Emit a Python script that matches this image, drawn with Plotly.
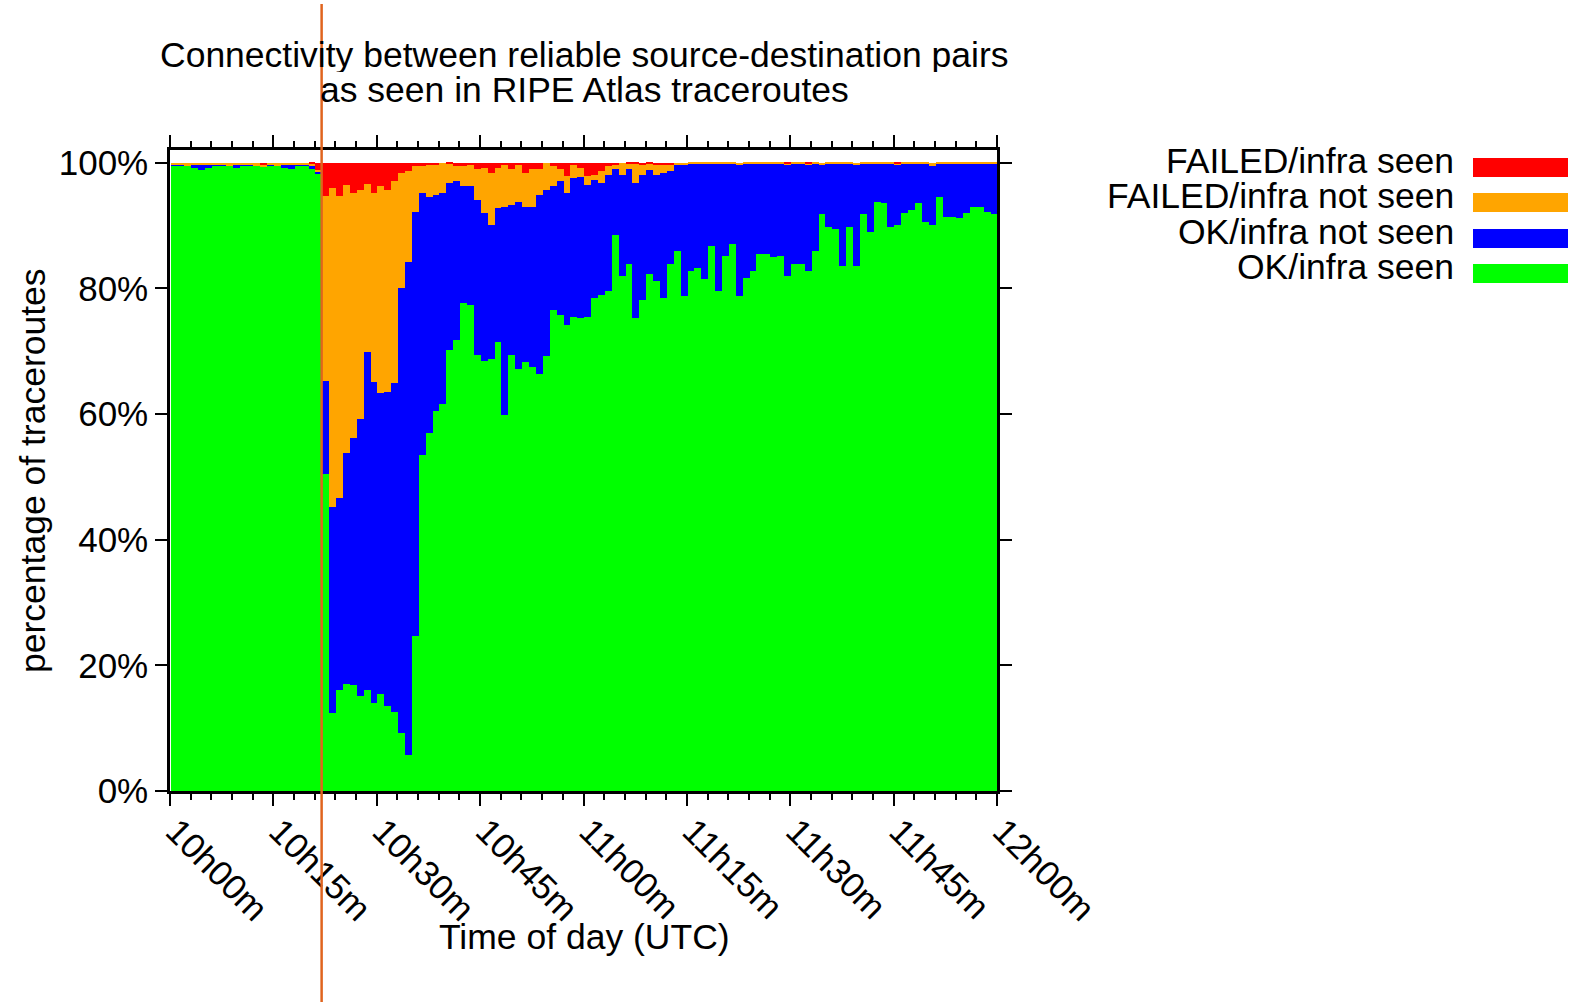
import plotly.graph_objects as go

# ---------------- data ----------------
day = "2015-05-13"
minutes = list(range(120))                       # 1-minute bins 10:00 .. 11:59
bin_start = [f"{day} {10 + m // 60:02d}:{m % 60:02d}:00" for m in minutes]
event_time = f"{day} 10:22:00"

series_names = ["OK/infra seen", "OK/infra not seen", "FAILED/infra not seen", "FAILED/infra seen"]
series_colors = ["#00ff00", "#0000ff", "#ffa500", "#ff0000"]

ok_seen = [
    99.6, 99.6, 99.5, 99.1, 98.8, 99.1, 99.6, 99.6, 99.5, 99.1,
    99.6, 99.6, 99.5, 99.4, 99.6, 99.5, 99.1, 99.0, 99.6, 99.5,
    98.9, 98.2, 50.5, 12.4, 16.1, 17.0, 16.9, 15.1, 16.1, 14.0,
    15.4, 13.5, 12.6, 9.2, 5.7, 24.7, 53.5, 56.9, 60.5, 61.6,
    70.2, 71.7, 77.7, 77.4, 69.4, 68.5, 68.8, 71.4, 59.9, 69.4,
    67.2, 68.2, 67.4, 66.3, 69.3, 76.6, 75.7, 74.2, 75.5, 75.3,
    75.5, 78.5, 79.0, 79.5, 88.4, 82.0, 83.8, 75.2, 78.1, 82.2,
    81.1, 78.5, 83.8, 86.0, 78.7, 82.7, 83.3, 81.4, 86.7, 79.6,
    85.2, 87.0, 78.8, 81.7, 82.8, 85.5, 85.5, 84.9, 85.2, 82.0,
    83.8, 83.8, 82.8, 85.9, 91.8, 89.7, 89.5, 83.5, 89.8, 83.5,
    91.8, 89.0, 93.7, 93.5, 89.8, 90.0, 91.9, 92.4, 93.5, 90.5,
    90.0, 94.6, 91.4, 91.4, 91.2, 91.9, 93.0, 93.0, 92.2, 91.8,
]
ok_not_seen = [
    0.1, 0.1, 0.1, 0.6, 0.9, 0.6, 0.1, 0.1, 0.1, 0.6,
    0.1, 0.1, 0.1, 0.0, 0.1, 0.1, 0.6, 0.7, 0.1, 0.2,
    0.7, 0.3, 14.8, 32.8, 30.6, 36.8, 39.3, 44.1, 53.7, 51.1,
    48.0, 50.0, 52.4, 70.9, 78.4, 67.4, 41.6, 37.6, 34.3, 33.5,
    26.5, 25.3, 18.5, 18.8, 24.6, 23.4, 21.2, 21.3, 33.1, 23.8,
    26.6, 24.7, 25.6, 28.5, 26.3, 19.6, 21.3, 20.9, 22.0, 22.4,
    20.9, 18.7, 17.7, 18.6, 10.5, 16.1, 15.1, 21.5, 20.0, 16.6,
    16.9, 19.8, 14.8, 13.6, 20.9, 17.2, 16.6, 18.4, 13.1, 20.3,
    14.6, 12.9, 20.8, 18.1, 17.1, 14.4, 14.3, 15.0, 14.6, 17.7,
    16.0, 16.1, 16.9, 13.9, 7.8, 10.1, 10.4, 16.3, 10.1, 16.1,
    8.0, 10.9, 6.1, 6.4, 10.0, 9.7, 7.9, 7.5, 6.3, 9.4,
    9.5, 5.3, 8.4, 8.5, 8.7, 7.9, 6.9, 6.9, 7.7, 8.1,
]
failed_not_seen = [
    0.3, 0.3, 0.3, 0.3, 0.3, 0.3, 0.3, 0.3, 0.3, 0.3,
    0.3, 0.3, 0.3, 0.2, 0.3, 0.3, 0.3, 0.3, 0.3, 0.3,
    0.2, 0.3, 29.4, 50.8, 48.0, 42.6, 38.9, 36.4, 26.8, 30.0,
    32.8, 32.1, 32.0, 18.3, 14.5, 7.3, 4.3, 5.2, 4.9, 4.9,
    3.2, 2.4, 3.2, 3.4, 4.9, 7.3, 8.4, 6.5, 6.6, 5.7,
    5.8, 5.5, 5.9, 4.1, 4.4, 3.2, 1.9, 2.7, 2.2, 1.5,
    1.4, 0.9, 1.9, 1.3, 0.8, 1.9, 1.0, 3.2, 1.5, 1.1,
    1.7, 1.4, 1.1, 0.4, 0.4, 0.1, 0.1, 0.2, 0.2, 0.1,
    0.2, 0.1, 0.4, 0.2, 0.1, 0.1, 0.2, 0.1, 0.2, 0.1,
    0.2, 0.1, 0.1, 0.2, 0.4, 0.2, 0.1, 0.2, 0.1, 0.4,
    0.2, 0.1, 0.2, 0.1, 0.2, 0.1, 0.2, 0.1, 0.2, 0.1,
    0.5, 0.1, 0.2, 0.1, 0.1, 0.2, 0.1, 0.1, 0.1, 0.1,
]
failed_seen = [
    0.0, 0.0, 0.0, 0.0, 0.0, 0.0, 0.0, 0.0, 0.0, 0.0,
    0.0, 0.0, 0.0, 0.4, 0.0, 0.0, 0.0, 0.0, 0.0, 0.0,
    0.2, 1.2, 5.3, 4.0, 5.3, 3.6, 4.9, 4.4, 3.4, 4.9,
    3.8, 4.4, 3.0, 1.6, 1.4, 0.6, 0.6, 0.3, 0.3, 0.0,
    0.1, 0.6, 0.6, 0.4, 1.1, 0.8, 1.6, 0.8, 0.4, 1.1,
    0.4, 1.6, 1.1, 1.1, 0.0, 0.6, 1.1, 2.2, 0.3, 0.8,
    2.2, 1.9, 1.4, 0.6, 0.3, 0.0, 0.1, 0.1, 0.4, 0.1,
    0.3, 0.3, 0.3, 0.0, 0.0, 0.0, 0.0, 0.0, 0.0, 0.0,
    0.0, 0.0, 0.0, 0.0, 0.0, 0.0, 0.0, 0.0, 0.0, 0.2,
    0.0, 0.0, 0.2, 0.0, 0.0, 0.0, 0.0, 0.0, 0.0, 0.0,
    0.0, 0.0, 0.0, 0.0, 0.0, 0.2, 0.0, 0.0, 0.0, 0.0,
    0.0, 0.0, 0.0, 0.0, 0.0, 0.0, 0.0, 0.0, 0.0, 0.0,
]
series_values = [ok_seen, ok_not_seen, failed_not_seen, failed_seen]

y_tick_vals = [0, 20, 40, 60, 80, 100]
y_tick_text = [f"{v}%" for v in y_tick_vals]

title_lines = ["Connectivity between reliable source-destination pairs",
               "as seen in RIPE Atlas traceroutes"]
x_title = "Time of day (UTC)"
y_title = "percentage of traceroutes"

# ---------------- layout geometry ----------------
W, H = 1572, 1007
L, R, T, B = 170, 575, 150, 216
PW, PH = W - L - R, H - T - B
FONT = "Liberation Sans, Arial, Helvetica, sans-serif"
FS = 35.5
TFS = 35


def px(xp):
    return (xp - L) / PW


def py(yp):
    return (H - B - yp) / PH


fig = go.Figure()
for name, color, vals in zip(series_names, series_colors, series_values):
    fig.add_trace(go.Bar(
        x=bin_start, y=vals, name=name,
        marker=dict(color=color, line=dict(width=0)),
        width=60000, offset=6000,
        showlegend=False,
    ))

# custom gnuplot-style legend (text left, swatch right)
legend_order = [3, 2, 1, 0]
text_y = [161, 196, 231, 266]
sw_y = [(158, 177), (193, 212), (229, 248), (264, 283)]
annotations = []
shapes = []
for i, idx in enumerate(legend_order):
    annotations.append(dict(
        text=series_names[idx], xref="paper", yref="paper",
        x=px(1456), y=py(text_y[i]), xanchor="right", yanchor="middle",
        height=33, valign="middle",
        showarrow=False, font=dict(family=FONT, size=FS, color="black"),
    ))
    shapes.append(dict(
        type="rect", xref="paper", yref="paper",
        x0=px(1473), x1=px(1568), y0=py(sw_y[i][1]), y1=py(sw_y[i][0]),
        fillcolor=series_colors[idx], line=dict(width=0),
    ))

# titles
annotations.append(dict(text=title_lines[0], xref="paper", yref="paper",
                        x=px(584), y=py(55), xanchor="center", yanchor="middle",
                        height=34, valign="middle",
                        showarrow=False, font=dict(family=FONT, size=FS, color="black")))
annotations.append(dict(text=title_lines[1], xref="paper", yref="paper",
                        x=px(584), y=py(90), xanchor="center", yanchor="middle",
                        height=34, valign="middle",
                        showarrow=False, font=dict(family=FONT, size=FS, color="black")))
annotations.append(dict(text=x_title, xref="paper", yref="paper",
                        x=px(584), y=py(937), xanchor="center", yanchor="middle",
                        showarrow=False, font=dict(family=FONT, size=FS, color="black")))
annotations.append(dict(text=y_title, xref="paper", yref="paper",
                        x=px(33), y=py(471), xanchor="center", yanchor="middle",
                        textangle=-90,
                        showarrow=False, font=dict(family=FONT, size=FS, color="black")))

# event marker line
shapes.append(dict(
    type="line", xref="x", yref="paper",
    x0=event_time, x1=event_time, y0=py(1002), y1=py(4),
    line=dict(color="#e0641e", width=2.5), layer="above",
))

fig.update_layout(
    width=W, height=H,
    margin=dict(l=L, r=R, t=T, b=B, pad=0),
    paper_bgcolor="white", plot_bgcolor="white",
    barmode="stack", bargap=0,
    font=dict(family=FONT, size=FS, color="black"),
    annotations=annotations, shapes=shapes,
    showlegend=False,
    xaxis=dict(
        type="date",
        range=[f"{day} 10:00:00", f"{day} 12:00:00"],
        tick0=f"{day} 10:00:00", dtick=900000,
        tickformat="%Hh%Mm", tickangle=45,
        ticklabelstandoff=-9, ticklabelshift=6,
        ticks="outside", ticklen=12, tickwidth=2, tickcolor="black",
        minor=dict(ticks="outside", ticklen=6, tickwidth=2, tickcolor="black",
                   dtick=180000, tick0=f"{day} 10:00:00", showgrid=False),
        showline=True, linewidth=2.5, linecolor="black", mirror="ticks",
        showgrid=False, zeroline=False,
        tickfont=dict(family=FONT, size=TFS, color="black"),
    ),
    yaxis=dict(
        range=[0, 102],
        tickmode="array", tickvals=y_tick_vals, ticktext=y_tick_text,
        ticks="outside", ticklen=12, tickwidth=2, tickcolor="black",
        showline=True, linewidth=2.5, linecolor="black", mirror="ticks",
        showgrid=False, zeroline=False,
        tickfont=dict(family=FONT, size=TFS, color="black"),
    ),
)

fig.write_html("out.html")
